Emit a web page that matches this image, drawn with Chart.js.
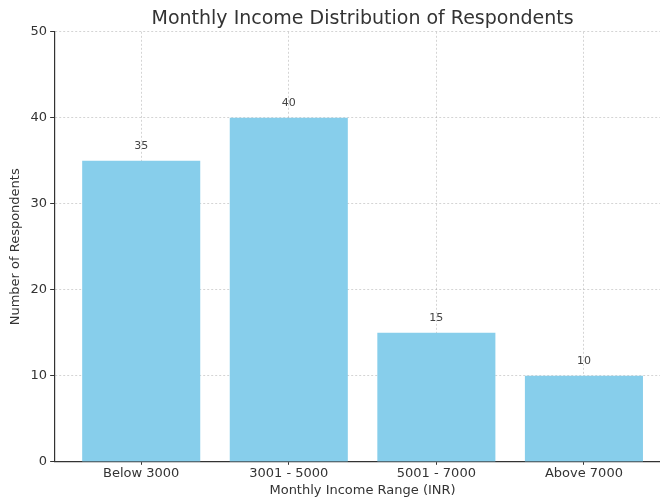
<!DOCTYPE html>
<html>
<head>
<meta charset="utf-8">
<script src="https://cdn.jsdelivr.net/npm/chart.js@4.4.1/dist/chart.umd.min.js"></script>
<style>
  html, body { margin: 0; padding: 0; background: #fff; overflow: hidden; }
  #wrap { width: 674px; height: 500px; }
</style>
</head>
<body>
<div id="wrap"><canvas id="c"></canvas></div>
<script>
const categories = ['Below 3000', '3001 - 5000', '5001 - 7000', 'Above 7000'];
const respondents = [35, 40, 15, 10];
const yTicks = [0, 10, 20, 30, 40, 50];

const FONT = "'DejaVu Sans', sans-serif";
const TEXT = '#333333';

// writes each bar's value just above it
const valueLabels = {
  id: 'valueLabels',
  afterDatasetsDraw(chart) {
    const ctx = chart.ctx;
    const meta = chart.getDatasetMeta(0);
    ctx.save();
    ctx.font = "11px " + FONT;
    ctx.fillStyle = '#444444';
    ctx.textAlign = 'center';
    ctx.textBaseline = 'bottom';
    meta.data.forEach((bar, i) => {
      ctx.fillText(String(respondents[i]), bar.x, bar.y - 9);
    });
    ctx.restore();
  }
};

const gridStyle = {
  color: 'rgba(150,150,150,0.5)',
  lineWidth: 0.8,
  tickLength: 4,
  tickColor: '#333333',
  tickWidth: 1,
  offset: false
};

new Chart(document.getElementById('c'), {
  type: 'bar',
  data: {
    datasets: [{
      data: respondents.map((v, i) => ({ x: i, y: v })),
      backgroundColor: '#87CEEB',
      borderWidth: 0,
      barPercentage: 0.8,
      categoryPercentage: 1.0
    }]
  },
  options: {
    responsive: true,
    maintainAspectRatio: false,
    animation: false,
    layout: { padding: { left: 8, right: 3, top: 0, bottom: 2 } },
    plugins: {
      legend: { display: false },
      tooltip: { enabled: false },
      title: {
        display: true,
        fullSize: false,
        text: 'Monthly Income Distribution of Respondents',
        color: TEXT,
        font: { family: FONT, size: 19, weight: 'normal' },
        padding: { top: 8, bottom: 1 }
      }
    },
    scales: {
      x: {
        type: 'linear',
        min: -0.59,
        max: 3.59,
        offset: false,
        z: 1,
        afterBuildTicks(scale) {
          scale.ticks = categories.map((_, i) => ({ value: i }));
        },
        ticks: {
          autoSkip: false,
          maxRotation: 0,
          color: TEXT,
          padding: 1,
          font: { family: FONT, size: 13 },
          callback: (v) => categories[v]
        },
        grid: Object.assign({}, gridStyle, { tickLength: 3 }),
        border: { display: true, color: '#333333', width: 1.2, dash: [2, 2] },
        title: {
          display: true,
          text: 'Monthly Income Range (INR)',
          color: TEXT,
          font: { family: FONT, size: 13 },
          padding: { top: 0, bottom: 0 }
        }
      },
      y: {
        min: 0,
        max: 50,
        z: 1,
        afterBuildTicks(scale) {
          scale.ticks = yTicks.map(v => ({ value: v }));
        },
        ticks: {
          color: TEXT,
          padding: 3,
          font: { family: FONT, size: 13 }
        },
        grid: gridStyle,
        border: { display: true, color: '#333333', width: 1.2, dash: [2, 2] },
        title: {
          display: true,
          text: 'Number of Respondents',
          color: TEXT,
          font: { family: FONT, size: 13 },
          padding: { top: 0, bottom: 4 }
        }
      }
    }
  },
  plugins: [valueLabels]
});
</script>
</body>
</html>
